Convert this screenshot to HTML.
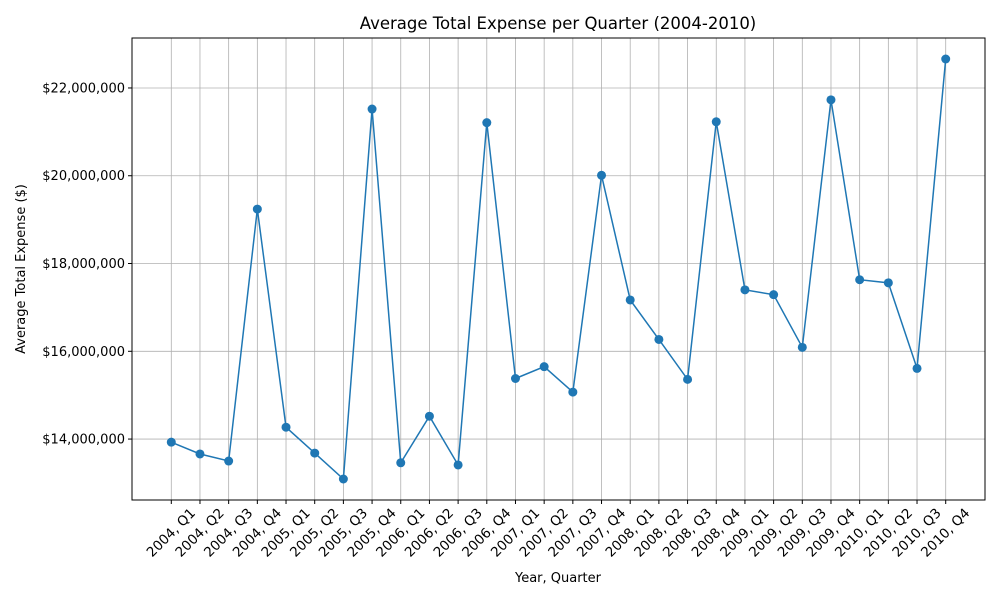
<!DOCTYPE html>
<html><head><meta charset="utf-8"><style>
body{margin:0;background:#fff;font-family:"DejaVu Sans","Liberation Sans",sans-serif}
svg text{font-family:"DejaVu Sans","Liberation Sans",sans-serif}
</style></head><body>
<svg id="chart" width="1000" height="600" xmlns="http://www.w3.org/2000/svg">
<rect width="1000" height="600" fill="#fff"/>
<text x="558" y="29" font-size="16.5" text-anchor="middle">Average Total Expense per Quarter (2004-2010)</text>
<g id="grid"></g>
<g id="xticks"></g>
<g id="yticks"></g>
<rect x="132" y="38" width="853" height="462" fill="none" stroke="#000" stroke-width="1"/>
<g id="series"></g>
<text x="558" y="582" font-size="13" text-anchor="middle">Year, Quarter</text>
<text transform="translate(25,269) rotate(-90)" font-size="13" text-anchor="middle">Average Total Expense ($)</text>
</svg>
<script>
const categories = ["2004, Q1","2004, Q2","2004, Q3","2004, Q4","2005, Q1","2005, Q2","2005, Q3","2005, Q4","2006, Q1","2006, Q2","2006, Q3","2006, Q4","2007, Q1","2007, Q2","2007, Q3","2007, Q4","2008, Q1","2008, Q2","2008, Q3","2008, Q4","2009, Q1","2009, Q2","2009, Q3","2009, Q4","2010, Q1","2010, Q2","2010, Q3","2010, Q4"];
const expenseValues = [13.93,13.66,13.50,19.24,14.27,13.68,13.09,21.52,13.46,14.52,13.41,21.21,15.38,15.65,15.07,20.01,17.17,16.27,15.36,21.23,17.40,17.29,16.09,21.73,17.63,17.56,15.61,22.66];
const yTickValues = [14,16,18,20,22];
const yTickLabels = ["$14,000,000","$16,000,000","$18,000,000","$20,000,000","$22,000,000"];

const NS="http://www.w3.org/2000/svg";
const L=132,R=985,T=38,B=500;
const n=categories.length;
const vmin=Math.min(...expenseValues), vmax=Math.max(...expenseValues);
const pad=(vmax-vmin)*0.05;
const y0=vmin-pad, y1=vmax+pad;
const xStep=(R-L)/(n-1+2*1.37);
function xs(i){return L+xStep*1.37+i*xStep;}
function ys(v){return B-(v-y0)/(y1-y0)*(B-T);}
function mk(tag,attrs,parent){const e=document.createElementNS(NS,tag);for(const k in attrs)e.setAttribute(k,attrs[k]);parent.appendChild(e);return e;}
const grid=document.getElementById('grid'),xt=document.getElementById('xticks'),yt=document.getElementById('yticks'),ser=document.getElementById('series');
categories.forEach((c,i)=>{
  const x=xs(i);
  const gl=mk('line',{x1:x,x2:x,y1:T,y2:B,stroke:'#b0b0b0','stroke-width':0.8},grid);
  
  
  const tk=mk('line',{x1:x,x2:x,y1:B,y2:B+4,stroke:'#000'},xt);
  
  
  const t=mk('text',{transform:`translate(${x},${533}) rotate(-45)`,'font-size':13.5,'text-anchor':'middle','dominant-baseline':'central'},xt);
  t.textContent=c;
  
  
});
yTickValues.forEach((v,i)=>{
  const y=ys(v);
  const gl=mk('line',{x1:L,x2:R,y1:y,y2:y,stroke:'#b0b0b0','stroke-width':0.8},grid);
  
  
  const tk=mk('line',{x1:L-4,x2:L,y1:y,y2:y,stroke:'#000'},yt);
  
  
  const t=mk('text',{x:L-7,y:y+4.5,'font-size':13,'text-anchor':'end'},yt);
  t.textContent=yTickLabels[i];
  
  
});
const pts=expenseValues.map((v,i)=>xs(i)+','+ys(v)).join(' ');
const pl=mk('polyline',{points:pts,fill:'none',stroke:'#1f77b4','stroke-width':1.5},ser);


expenseValues.forEach((v,i)=>{
  const c=mk('circle',{cx:xs(i),cy:ys(v),r:4.5,fill:'#1f77b4'},ser);
  
  
});
</script>
</body></html>
